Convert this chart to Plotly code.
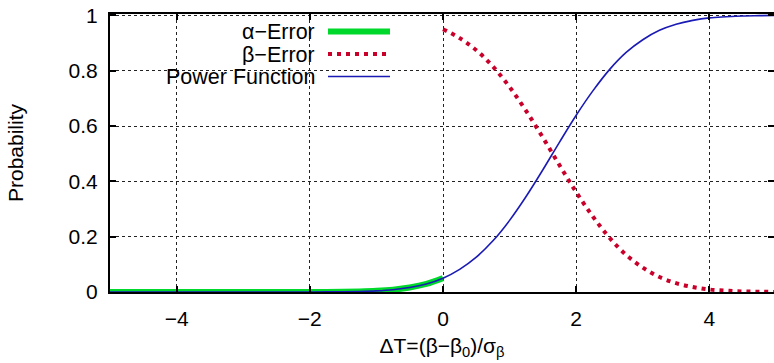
import plotly.graph_objects as go

# ---- data ----
x_power = [-5.0, -4.75, -4.5, -4.25, -4.0, -3.75, -3.5, -3.25, -3.0, -2.75,
           -2.5, -2.25, -2.0, -1.75, -1.5, -1.25, -1.0, -0.75, -0.5, -0.25,
           0.0, 0.25, 0.5, 0.75, 1.0, 1.25, 1.5, 1.75, 2.0, 2.25,
           2.5, 2.75, 3.0, 3.25, 3.5, 3.75, 4.0, 4.25, 4.5, 4.75, 5.0]
power = [0.0, 0.0, 0.0, 0.0, 0.0, 0.0, 0.0, 0.0, 0.0, 0.0,
         0.0, 0.00005, 0.00013, 0.00034, 0.00083, 0.0019, 0.0041, 0.0083, 0.016, 0.029,
         0.050, 0.082, 0.126, 0.185, 0.259, 0.346, 0.442, 0.542, 0.639, 0.727,
         0.804, 0.866, 0.912, 0.946, 0.968, 0.982, 0.991, 0.995, 0.998, 0.999, 1.0]

x_alpha = [-5.0, -4.75, -4.5, -4.25, -4.0, -3.75, -3.5, -3.25, -3.0, -2.75,
           -2.5, -2.25, -2.0, -1.75, -1.5, -1.25, -1.0, -0.75, -0.5, -0.25, 0.0]
alpha_err = [0.0, 0.0, 0.0, 0.0, 0.0, 0.0, 0.0, 0.0, 0.0, 0.0,
             0.0, 0.00005, 0.00013, 0.00034, 0.00083, 0.0019, 0.0041, 0.0083, 0.016, 0.029, 0.050]

x_beta = [0.0, 0.25, 0.5, 0.75, 1.0, 1.25, 1.5, 1.75, 2.0, 2.25,
          2.5, 2.75, 3.0, 3.25, 3.5, 3.75, 4.0, 4.25, 4.5, 4.75, 5.0]
beta_err = [0.950, 0.918, 0.874, 0.815, 0.741, 0.654, 0.558, 0.458, 0.361, 0.273,
            0.196, 0.134, 0.088, 0.054, 0.032, 0.018, 0.009, 0.005, 0.002, 0.001, 0.0]

series_names = ["α−Error", "β−Error", "Power Function"]
x_ticks = [-4, -2, 0, 2, 4]
x_tick_text = ["−4", "−2", "0", "2", "4"]
y_ticks = [0, 0.2, 0.4, 0.6, 0.8, 1]
y_tick_text = ["0", "0.2", "0.4", "0.6", "0.8", "1"]

GREEN = "#00d82c"
RED = "#c8002a"
BLUE = "#1a1ab4"
FONT = "Liberation Sans, Arial, Helvetica, sans-serif"
FS = 21

W, H = 774, 363
ML, MR, MT, MB = 110, 0, 14, 71

fig = go.Figure()
fig.add_trace(go.Scatter(x=x_alpha, y=alpha_err, mode="lines", name=series_names[0],
                         line=dict(color=GREEN, width=6, shape="spline"), showlegend=False))
fig.add_trace(go.Scatter(x=x_beta, y=beta_err, mode="lines", name=series_names[1],
                         line=dict(color=RED, width=4, dash="4px,5px", shape="spline"), showlegend=False))
fig.add_trace(go.Scatter(x=x_power, y=power, mode="lines", name=series_names[2],
                         line=dict(color=BLUE, width=1.6, shape="spline"), showlegend=False))

# manual legend (text right aligned, sample line on the right)
pw = W - ML - MR
ph = H - MT - MB
def px_to_paper_x(px):
    return (px - ML) / pw
def px_to_paper_y(py):
    return (H - MB - py) / ph

legend_rows = [31.5, 54.0, 76.5]
legend_styles = [dict(color=GREEN, width=6), dict(color=RED, width=4, dash="4px,5px"),
                 dict(color=BLUE, width=1.6)]
for name, ry, st in zip(series_names, legend_rows, legend_styles):
    fig.add_annotation(xref="paper", yref="paper", x=px_to_paper_x(316), y=px_to_paper_y(ry),
                       text=name, showarrow=False, xanchor="right", yanchor="middle",
                       height=21, borderpad=0,
                       font=dict(family=FONT, size=21.5, color="black"))
    fig.add_shape(type="line", xref="paper", yref="paper",
                  x0=px_to_paper_x(328), x1=px_to_paper_x(390),
                  y0=px_to_paper_y(ry), y1=px_to_paper_y(ry), line=st)

axis_common = dict(showline=True, linecolor="black", linewidth=2, mirror="ticks",
                   ticks="inside", ticklen=6, tickwidth=1.5, tickcolor="black",
                   showgrid=True, gridcolor="#222222", gridwidth=1, griddash="dot",
                   zeroline=False, layer="above traces",
                   tickfont=dict(family=FONT, size=FS, color="black"))

fig.update_xaxes(range=[-5, 4.97], tickvals=x_ticks, ticktext=x_tick_text,
                 ticklabelstandoff=7,
                 title=dict(text="ΔT=(β−β<sub>0</sub>)/σ<sub>β</sub>",
                            font=dict(family=FONT, size=FS, color="black"), standoff=9),
                 **axis_common)
fig.update_yaxes(range=[0, 1.005], tickvals=y_ticks, ticktext=y_tick_text,
                 ticklabelstandoff=6,
                 title=dict(text="Probability", font=dict(family=FONT, size=FS, color="black"),
                            standoff=39),
                 **axis_common)

fig.update_layout(width=W, height=H, margin=dict(l=ML, r=MR, t=MT, b=MB, autoexpand=False),
                  paper_bgcolor="white", plot_bgcolor="white", showlegend=False)

fig.write_html("out.html", config={"displayModeBar": False},
               post_script="document.body.style.margin='0';document.body.style.overflow='hidden';")
